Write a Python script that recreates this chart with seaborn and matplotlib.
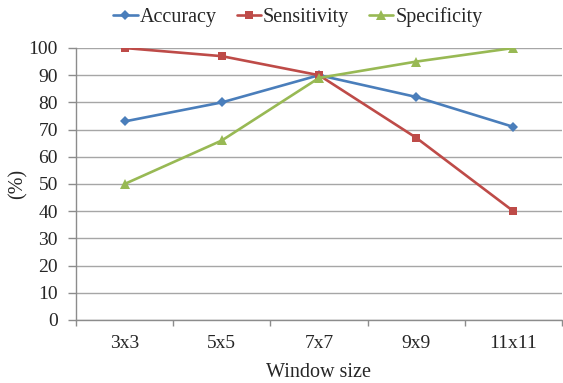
import matplotlib
matplotlib.use("Agg")
import matplotlib.pyplot as plt
import seaborn as sns
import pandas as pd
from matplotlib.lines import Line2D

categories = ["3x3", "5x5", "7x7", "9x9", "11x11"]
accuracy = [73, 80, 90, 82, 71]
sensitivity = [100, 97, 90, 67, 40]
specificity = [50, 66, 89, 95, 100]
series_names = ["Accuracy", "Sensitivity", "Specificity"]
yticks = list(range(0, 101, 10))

sns.set_style("white")
plt.rcParams["font.family"] = ["Liberation Serif", "DejaVu Serif"]

rows = []
for name, vals in zip(series_names, [accuracy, sensitivity, specificity]):
    for i, (c, v) in enumerate(zip(categories, vals)):
        rows.append({"pos": i, "cat": c, "value": v, "series": name})
df = pd.DataFrame(rows)

palette = {"Accuracy": "#4A7EBB", "Sensitivity": "#BE4B48", "Specificity": "#98B954"}
markers = {"Accuracy": "D", "Sensitivity": "s", "Specificity": "^"}
msizes = {"Accuracy": 5, "Sensitivity": 6.2, "Specificity": 7}
lw = 1.9

fig = plt.figure(figsize=(5.63, 3.83), dpi=100)
ax = fig.add_axes([76/563, 1-320/383, (562-76)/563, (320-48)/383])

sns.lineplot(data=df, x="pos", y="value", hue="series", style="series",
             palette=palette, markers=markers, dashes=False, linewidth=lw,
             markersize=7, markeredgewidth=0, ax=ax, legend=False)
for line, name in zip(ax.get_lines(), series_names):
    line.set_markersize(msizes[name])

ax.set_xlim(-0.5, 4.5)
ax.set_ylim(0, 100)
ax.set_yticks(yticks)
ax.set_xticks(range(len(categories)))
ax.set_xticklabels(categories)
ax.set_xticks([i + 0.5 for i in range(-1, len(categories))], minor=True)
ax.tick_params(axis="x", which="major", length=0, pad=11, labelsize=14)
ax.tick_params(axis="x", which="minor", length=4, color="#8C8C8C", width=1, direction="out", bottom=True)
ax.tick_params(axis="y", length=6, color="#8C8C8C", width=1, left=True, pad=7, labelsize=14)
ax.yaxis.grid(True, color="#A6A6A6", linewidth=1)
ax.set_axisbelow(True)
for s in ["top", "right"]:
    ax.spines[s].set_visible(False)
for s in ["left", "bottom"]:
    ax.spines[s].set_color("#8C8C8C")
    ax.spines[s].set_linewidth(1)

ax.set_xlabel("Window size", fontsize=14.5, labelpad=8)
ax.set_ylabel("(%)", fontsize=14.5, labelpad=1)

handles = [Line2D([0], [0], color=palette[n], marker=markers[n], markersize=msizes[n],
                  markeredgewidth=0, linewidth=lw) for n in series_names]
fig.legend(handles, series_names, loc="center", bbox_to_anchor=(298/563, 1-17/383),
           ncol=3, frameon=False, fontsize=14.5, handlelength=1.2, handletextpad=0.1,
           columnspacing=1.0, borderpad=0, borderaxespad=0)

fig.savefig("out.png", dpi=100)
